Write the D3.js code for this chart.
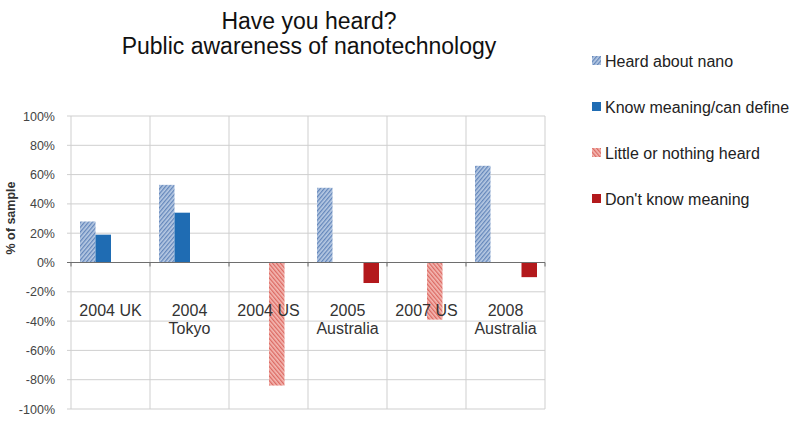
<!DOCTYPE html>
<meta charset="utf-8">
<style>
    body {margin: 0; background: #fff; font-family: 'Liberation Sans', Arial, sans-serif;}
    .grid line {stroke: #cfcfcf; stroke-width: 1;}
</style>

<svg width="800" height="423"></svg>

<script src="https://cdnjs.cloudflare.com/ajax/libs/d3/7.8.5/d3.min.js"></script>
<script>

// data
var categories = [["2004 UK"], ["2004", "Tokyo"], ["2004 US"], ["2005", "Australia"], ["2007 US"], ["2008", "Australia"]];
var seriesNames = ["Heard about nano", "Know meaning/can define", "Little or nothing heard", "Don't know meaning"];
var heardValues  = [28, 53, null, 51, null, 66];
var knowValues   = [19, 34, null, null, null, null];
var littleValues = [null, null, -84, null, -39, null];
var dontValues   = [null, null, null, -14, null, -10];
var yTicks = [100, 80, 60, 40, 20, 0, -20, -40, -60, -80, -100];

var allValues = [heardValues, knowValues, littleValues, dontValues];
var fills = ["url(#hatchBlue)", "#1f6cb3", "url(#hatchRed)", "#b3191c"];

var svg = d3.select("svg");
var plotLeft = 71, plotRight = 545, plotTop = 116, plotBottom = 409;

var x = d3.scaleBand()
    .domain(d3.range(categories.length))
    .range([plotLeft, plotRight]);

var inner = d3.scaleBand()
    .domain(d3.range(seriesNames.length))
    .range([9, x.bandwidth() - 8]);

var y = d3.scaleLinear()
    .domain([-100, 100])
    .range([plotBottom, plotTop]);

// PATTERNS
var defs = svg.append("defs");
function hatch(id, bg, fg, angle) {
  var p = defs.append("pattern")
      .attr("id", id)
      .attr("patternUnits", "userSpaceOnUse")
      .attr("width", 3).attr("height", 3)
      .attr("patternTransform", "rotate(" + angle + ")");
  p.append("rect").attr("width", 3).attr("height", 3).attr("fill", bg);
  p.append("rect").attr("width", 1.3).attr("height", 3).attr("fill", fg);
}
hatch("hatchBlue", "#b9cbe4", "#6487bb", 40);
hatch("hatchRed", "#f4b9b3", "#dc6a63", -40);

// TITLE
svg.append("text")
    .attr("x", 309).attr("y", 29)
    .attr("text-anchor", "middle")
    .style("font-size", "23px").style("fill", "#111")
    .text("Have you heard?");
svg.append("text")
    .attr("x", 309).attr("y", 54)
    .attr("text-anchor", "middle")
    .style("font-size", "23px").style("fill", "#111")
    .text("Public awareness of nanotechnology");

// GRID
var grid = svg.append("g").attr("class", "grid");
grid.selectAll(".h")
    .data(yTicks)
    .enter().append("line")
    .attr("x1", plotLeft - 4).attr("x2", plotRight)
    .attr("y1", function(d) { return y(d); })
    .attr("y2", function(d) { return y(d); });
grid.selectAll(".v")
    .data(d3.range(categories.length + 1))
    .enter().append("line")
    .attr("x1", function(d) { return d < categories.length ? x(d) : plotRight; })
    .attr("x2", function(d) { return d < categories.length ? x(d) : plotRight; })
    .attr("y1", plotTop).attr("y2", plotBottom);

// Y AXIS LABELS
var yAxis = svg.append("g")
    .attr("transform", "translate(" + plotLeft + ",0)")
    .call(d3.axisLeft(y).tickValues(yTicks).tickSize(0).tickPadding(16)
      .tickFormat(function(d) { return d + "%"; }));
yAxis.select(".domain").remove();
yAxis.selectAll("text")
    .style("font-family", "'Liberation Sans', Arial, sans-serif")
    .style("font-size", "12.5px").style("fill", "#444");

svg.append("text")
    .attr("transform", "translate(15,218) rotate(-90)")
    .attr("text-anchor", "middle")
    .style("font-size", "12.5px").style("font-weight", "bold").style("fill", "#333")
    .text("% of sample");

// BARS
var bars = svg.append("g");
allValues.forEach(function(vals, s) {
  bars.selectAll(".s" + s)
      .data(vals.map(function(v, i) { return {i: i, v: v}; }).filter(function(d) { return d.v !== null; }))
      .enter().append("rect")
      .attr("x", function(d) { return x(d.i) + inner(s); })
      .attr("width", inner.bandwidth())
      .attr("y", function(d) { return y(Math.max(0, d.v)); })
      .attr("height", function(d) { return Math.abs(y(d.v) - y(0)); })
      .attr("fill", fills[s]);
});

// ZERO LINE + TICKS
svg.append("line")
    .attr("x1", plotLeft - 4).attr("x2", plotRight)
    .attr("y1", y(0)).attr("y2", y(0))
    .style("stroke", "#6e6e6e").style("stroke-width", 1.2);
svg.selectAll(".ztick")
    .data(d3.range(categories.length + 1))
    .enter().append("line")
    .attr("x1", function(d) { return d < categories.length ? x(d) : plotRight; })
    .attr("x2", function(d) { return d < categories.length ? x(d) : plotRight; })
    .attr("y1", y(0)).attr("y2", y(0) + 4)
    .style("stroke", "#6e6e6e");

// CATEGORY LABELS
var cat = svg.selectAll(".cat")
    .data(categories)
    .enter().append("text")
    .attr("text-anchor", "middle")
    .style("font-size", "16px").style("fill", "#333");
cat.selectAll("tspan")
    .data(function(d, i) { return d.map(function(t, j) { return {t: t, j: j, i: i}; }); })
    .enter().append("tspan")
    .attr("x", function(d) { return x(d.i) + x.bandwidth() / 2; })
    .attr("y", function(d) { return 316 + d.j * 18; })
    .text(function(d) { return d.t; });

// LEGEND
var legend = svg.selectAll(".legend")
    .data(seriesNames)
    .enter().append("g")
    .attr("transform", function(d, i) { return "translate(592," + (61 + i * 46) + ")"; });
legend.append("rect")
    .attr("x", 0).attr("y", -5)
    .attr("width", 9).attr("height", 9)
    .attr("fill", function(d, i) { return fills[i]; });
legend.append("text")
    .attr("x", 13).attr("y", 6)
    .style("font-size", "16px").style("fill", "#222")
    .text(function(d) { return d; });

</script>
